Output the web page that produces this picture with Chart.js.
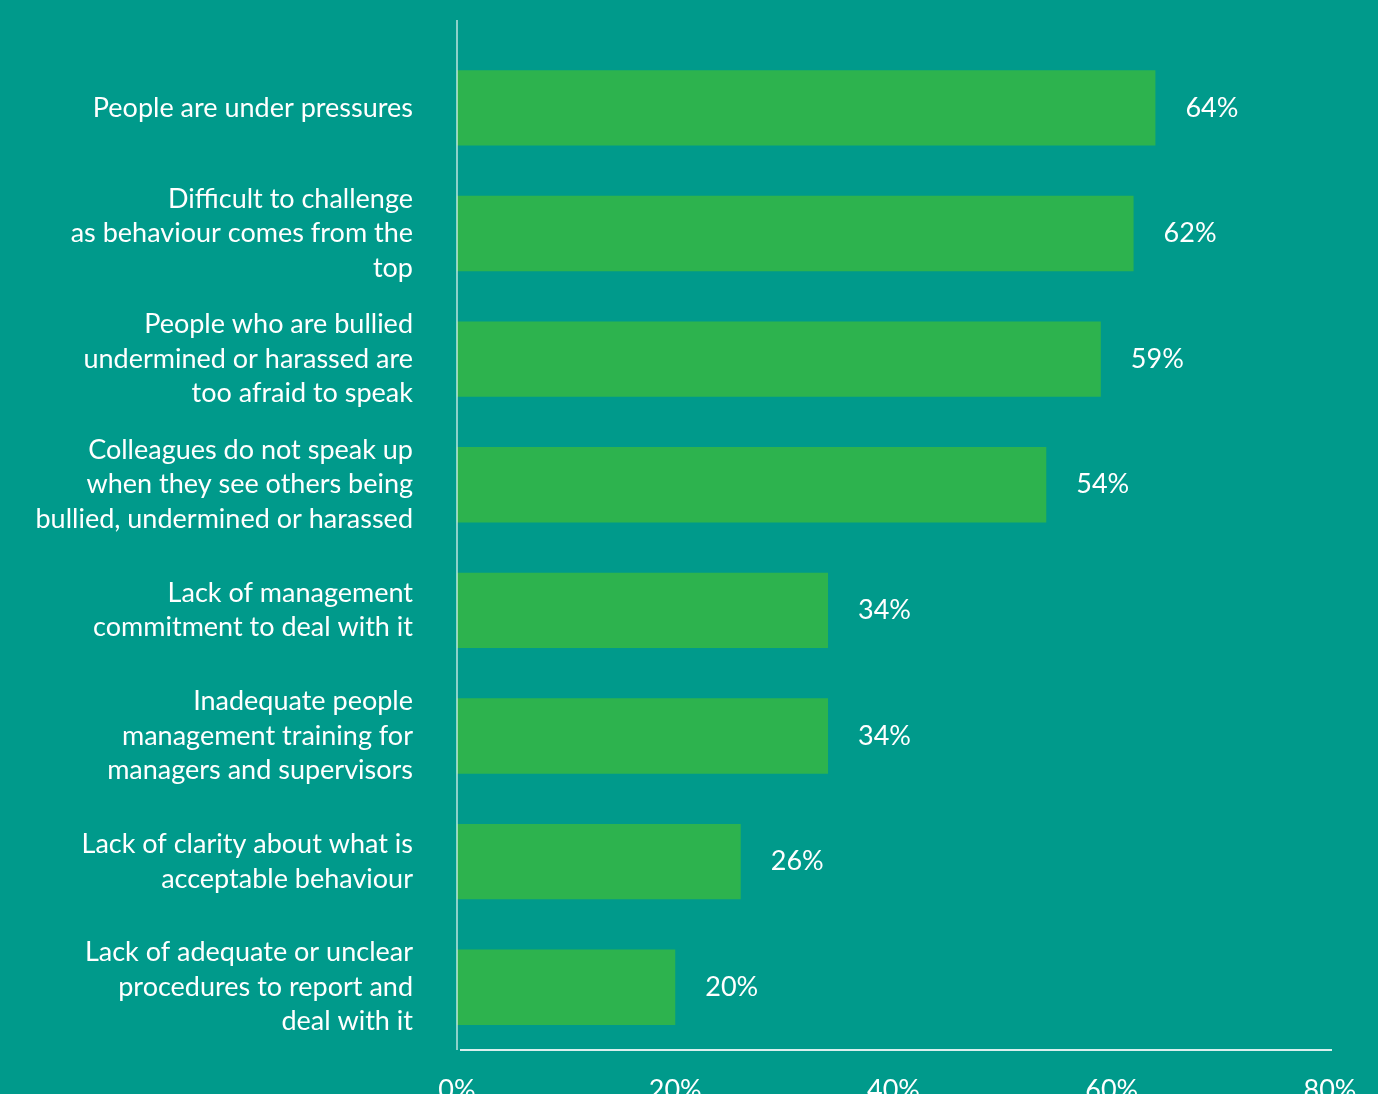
<!DOCTYPE html>
<html>
<head>
<meta charset="utf-8">
<script src="https://cdn.jsdelivr.net/npm/chart.js@4/dist/chart.umd.min.js"></script>
<style>
  html, body { margin: 0; padding: 0; background: #009a8b; overflow: hidden; }
  #wrap { width: 1378px; height: 1094px; }
</style>
</head>
<body>
<div id="wrap"><canvas id="chart"></canvas></div>
<script>
const categories = [
    ['People are under pressures'],
    ['Difficult to challenge', 'as behaviour comes from the', 'top'],
    ['People who are bullied', 'undermined or harassed are', 'too afraid to speak'],
    ['Colleagues do not speak up', 'when they see others being', 'bullied, undermined or harassed'],
    ['Lack of management', 'commitment to deal with it'],
    ['Inadequate people', 'management training for', 'managers and supervisors'],
    ['Lack of clarity about what is', 'acceptable behaviour'],
    ['Lack of adequate or unclear', 'procedures to report and', 'deal with it']
];
const values = [64, 62, 59, 54, 34, 34, 26, 20];
const xTicks = [0, 20, 40, 60, 80];

const textColor = '#ffffff';
const fontFamily = 'Lato, "Open Sans", sans-serif';

// value labels to the right of each bar
const valueLabels = {
    id: 'valueLabels',
    afterDatasetsDraw(chart) {
        const ctx = chart.ctx;
        const meta = chart.getDatasetMeta(0);
        ctx.save();
        ctx.fillStyle = textColor;
        ctx.font = '27px ' + fontFamily;
        ctx.textAlign = 'left';
        ctx.textBaseline = 'middle';
        meta.data.forEach((bar, i) => {
            ctx.fillText(values[i] + '%', bar.x + 30, bar.y);
        });
        ctx.restore();
    }
};

// axis lines: vertical one starts above the plot area
const axisLines = {
    id: 'axisLines',
    afterDraw(chart) {
        const ctx = chart.ctx;
        const x = chart.scales.x;
        const area = chart.chartArea;
        ctx.save();
        ctx.lineWidth = 2;
        ctx.strokeStyle = 'rgba(255,255,255,0.55)';
        ctx.beginPath();
        ctx.moveTo(x.getPixelForValue(0), 20);
        ctx.lineTo(x.getPixelForValue(0), area.bottom);
        ctx.stroke();
        ctx.strokeStyle = 'rgba(255,255,255,0.85)';
        ctx.beginPath();
        ctx.moveTo(x.getPixelForValue(0) + 3, area.bottom);
        ctx.lineTo(x.getPixelForValue(80) + 2, area.bottom);
        ctx.stroke();
        ctx.restore();
    }
};

new Chart(document.getElementById('chart'), {
    type: 'bar',
    data: {
        labels: categories,
        datasets: [{
            data: values,
            backgroundColor: '#2db34e',
            barPercentage: 0.6,
            categoryPercentage: 1.0
        }]
    },
    options: {
        indexAxis: 'y',
        responsive: true,
        maintainAspectRatio: false,
        animation: false,
        layout: { padding: { top: 45, right: 48, left: 0, bottom: 0 } },
        plugins: {
            legend: { display: false },
            tooltip: { enabled: false }
        },
        scales: {
            x: {
                min: 0,
                max: 80,
                afterBuildTicks(scale) {
                    scale.ticks = xTicks.map(v => ({ value: v }));
                },
                afterFit(scale) {
                    scale.height = 44;
                    scale.paddingLeft = 0;
                    scale.paddingRight = 0;
                },
                grid: { display: false, drawTicks: false },
                border: { display: false },
                ticks: {
                    color: textColor,
                    font: { family: fontFamily, size: 27 },
                    padding: 24,
                    maxRotation: 0,
                    callback: v => v + '%'
                }
            },
            y: {
                afterFit(scale) {
                    scale.width = 457;
                    scale.paddingTop = 0;
                    scale.paddingBottom = 0;
                },
                grid: { display: false, drawTicks: false },
                border: { display: false },
                ticks: {
                    color: textColor,
                    font: { family: fontFamily, size: 27, lineHeight: 1.28 },
                    padding: 44
                }
            }
        }
    },
    plugins: [valueLabels, axisLines]
});
</script>
</body>
</html>
